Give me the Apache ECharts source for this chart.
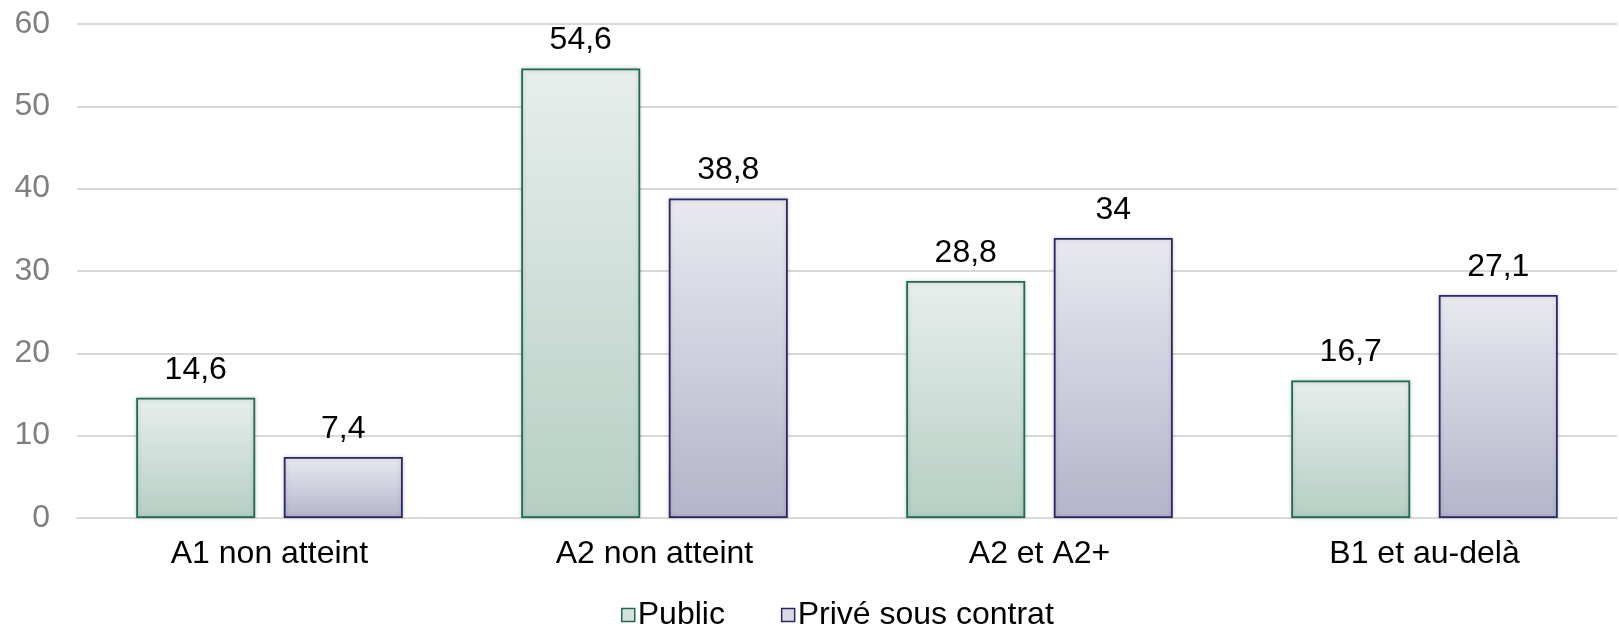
<!DOCTYPE html>
<html><head><meta charset="utf-8">
<script src="https://cdn.jsdelivr.net/npm/echarts@6/dist/echarts.min.js"></script>
<style>html,body{margin:0;padding:0;background:#fff}#c{width:1619px;height:628px}</style>
</head><body><div id="c"></div>
<script>
var categories = ['A1 non atteint', 'A2 non atteint', 'A2 et A2+', 'B1 et au-delà'];
var publicValues = [14.6, 54.6, 28.8, 16.7];
var priveValues = [7.4, 38.8, 34, 27.1];
var seriesNames = ['Public', 'Privé sous contrat'];
var yTicks = [0, 10, 20, 30, 40, 50, 60];

var FONT = '"Liberation Sans", Arial, sans-serif';
var FS = 32;
function grad(top, bottom) {
  return new echarts.graphic.LinearGradient(0, 0, 0, 1, [{offset: 0, color: top}, {offset: 1, color: bottom}]);
}
function fmt(v) { return String(v).replace('.', ','); }

var chart = echarts.init(document.getElementById('c'));
chart.setOption({
  animation: false,
  textStyle: {fontFamily: FONT},
  grid: {left: 77, right: 2, top: 24, bottom: 110},
  legend: {
    bottom: -8, left: 616, itemWidth: 13, itemHeight: 13, itemGap: 56, padding: 5,
    textStyle: {fontSize: FS, color: '#000', fontFamily: FONT, padding: [0, 0, 0, -2]},
    data: [
      {name: seriesNames[0], icon: 'rect', itemStyle: {color: '#d2e2dc', borderColor: '#1d6b50', borderWidth: 1.5}},
      {name: seriesNames[1], icon: 'rect', itemStyle: {color: '#d8d8e6', borderColor: '#282868', borderWidth: 1.5}}
    ]
  },
  xAxis: {
    type: 'category', data: categories,
    axisLine: {show: true, lineStyle: {color: '#d9d9d9', width: 2}},
    axisTick: {show: false},
    axisLabel: {fontSize: FS, color: '#000', margin: 20, fontFamily: FONT}
  },
  yAxis: {
    type: 'value', min: yTicks[0], max: yTicks[yTicks.length - 1], interval: 10,
    axisLine: {show: false}, axisTick: {show: false},
    splitLine: {lineStyle: {color: '#d9d9d9', width: 2}},
    axisLabel: {fontSize: FS, color: '#7f7f7f', margin: 27, fontFamily: FONT}
  },
  series: [
    {
      name: seriesNames[0], type: 'bar', data: publicValues,
      barWidth: 119, barGap: '24%',
      itemStyle: {color: grad('#e8eeec', '#b5cfc4'), borderColor: '#1d6b50', borderWidth: 1.8,
        shadowColor: 'rgba(0,0,0,0.18)', shadowBlur: 4},
      label: {show: true, position: 'top', distance: 12, fontSize: FS, color: '#000', fontFamily: FONT,
        formatter: function (p) { return fmt(p.value); }}
    },
    {
      name: seriesNames[1], type: 'bar', data: priveValues,
      barWidth: 119,
      itemStyle: {color: grad('#e9e9ef', '#b4b4cb'), borderColor: '#282868', borderWidth: 1.8,
        shadowColor: 'rgba(0,0,0,0.18)', shadowBlur: 4},
      label: {show: true, position: 'top', distance: 12, fontSize: FS, color: '#000', fontFamily: FONT,
        formatter: function (p) { return fmt(p.value); }}
    }
  ]
});
</script></body></html>
